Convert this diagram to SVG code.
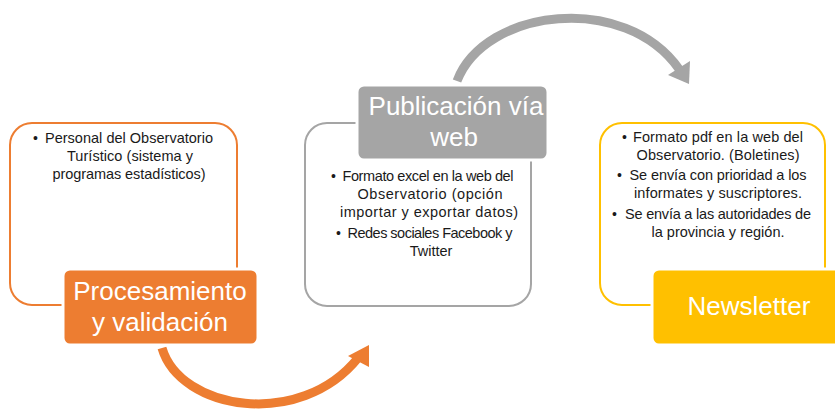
<svg xmlns="http://www.w3.org/2000/svg" width="835" height="410" viewBox="0 0 835 410">
<style>
.frame{fill:#fff;stroke-width:2}
.head{stroke:#fff;stroke-width:3}
.title{font-family:"Liberation Sans",Arial,sans-serif;font-size:26px;fill:#fff;text-anchor:middle}
.body{font-family:"Liberation Sans",Arial,sans-serif;font-size:14.5px;fill:#1a1a1a;text-anchor:middle}
.bul{font-family:"Liberation Sans",Arial,sans-serif;font-size:14px;fill:#1a1a1a}
</style>
<rect width="835" height="410" fill="#fff"/>
<g id="connectors">
<path d="M162,348 C180,410 300,430 358,358" fill="none" stroke="#ED7D31" stroke-width="9"/>
<polygon points="348,356 369,345 369,367" fill="#ED7D31"/>
<path d="M457,81 C485,8 625,-8 679,69" fill="none" stroke="#A5A5A5" stroke-width="9"/>
<polygon points="668,75 690,61 689,84" fill="#A5A5A5"/>
</g>
<g id="node-procesamiento">
<rect class="frame" x="10" y="123" width="227" height="182" rx="22" stroke="#ED7D31"/>
<text class="bul" x="33" y="143">•</text>
<text class="body" x="129" y="143" textLength="168">Personal del Observatorio</text>
<text class="body" x="130" y="161" textLength="126">Turístico (sistema y</text>
<text class="body" x="129" y="179" textLength="153">programas estadísticos)</text>
<rect class="head" x="63" y="269" width="195" height="76" rx="7" fill="#ED7D31"/>
<text class="title" x="160" y="300">Procesamiento</text>
<text class="title" x="160" y="331">y validación</text>
</g>
<g id="node-publicacion">
<rect class="frame" x="305" y="123" width="226" height="183" rx="22" stroke="#A5A5A5"/>
<text class="bul" x="331" y="181">•</text>
<text class="body" x="428" y="181" textLength="171">Formato excel en la web del</text>
<text class="body" x="430" y="199" textLength="145">Observatorio (opción</text>
<text class="body" x="429" y="217" textLength="178">importar y exportar datos)</text>
<text class="bul" x="336" y="238">•</text>
<text class="body" x="430" y="238" textLength="165">Redes sociales Facebook y</text>
<text class="body" x="431" y="256">Twitter</text>
<rect class="head" x="357" y="85" width="191" height="75" rx="7" fill="#A5A5A5"/>
<text class="title" x="456" y="115">Publicación vía</text>
<text class="title" x="454" y="146">web</text>
</g>
<g id="node-newsletter">
<rect class="frame" x="600" y="123" width="225" height="182" rx="22" stroke="#FFC000"/>
<text class="bul" x="622" y="142">•</text>
<text class="body" x="718" y="142" textLength="170">Formato pdf en la web del</text>
<text class="body" x="718" y="160" textLength="163">Observatorio. (Boletines)</text>
<text class="bul" x="617" y="180">•</text>
<text class="body" x="718" y="180" textLength="177">Se envía con prioridad a los</text>
<text class="body" x="718" y="198" textLength="168">informates y suscriptores.</text>
<text class="bul" x="612" y="219">•</text>
<text class="body" x="718" y="219" textLength="186">Se envía a las autoridades de</text>
<text class="body" x="718" y="237" textLength="133">la provincia y región.</text>
<rect class="head" x="652" y="269" width="195" height="76" rx="7" fill="#FFC000"/>
<text class="title" x="749" y="315" font-size="27">Newsletter</text>
</g>
</svg>
